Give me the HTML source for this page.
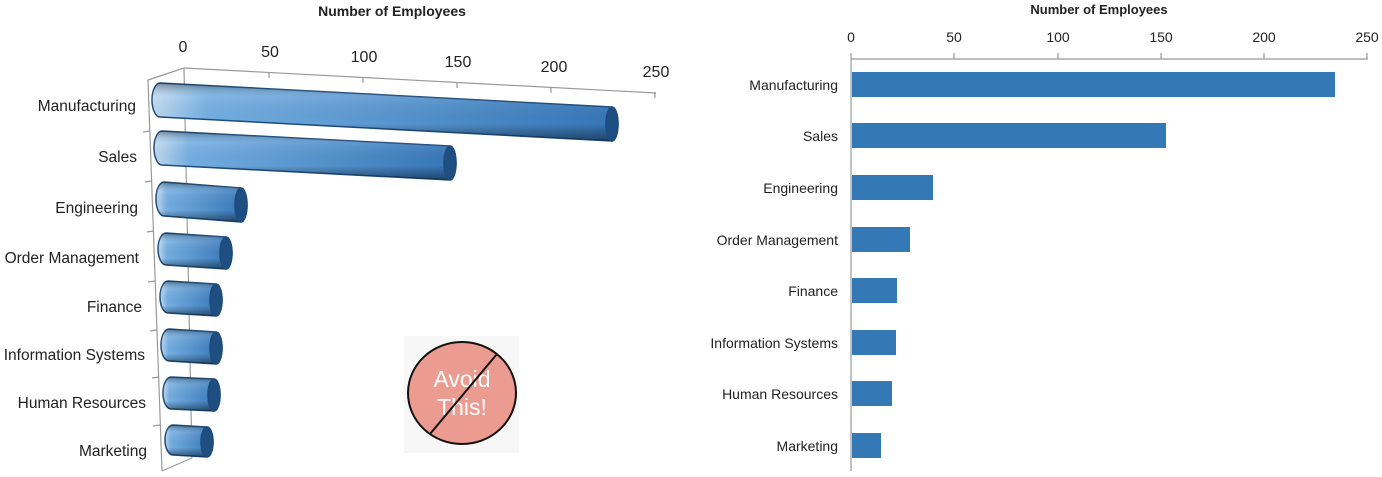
<!DOCTYPE html>
<html><head><meta charset="utf-8"><style>
html,body{margin:0;padding:0;background:#fff;}
svg{display:block;font-family:"Liberation Sans",sans-serif;}
</style></head><body>
<svg width="1382" height="477" viewBox="0 0 1382 477" xmlns="http://www.w3.org/2000/svg">
<defs>
<linearGradient id="gh" x1="0" y1="0" x2="1" y2="0">
<stop offset="0" stop-color="#c2daf0"/><stop offset="0.12" stop-color="#74afe2"/><stop offset="1" stop-color="#3576b8"/>
</linearGradient>
<linearGradient id="gv" x1="0" y1="0" x2="0" y2="1">
<stop offset="0" stop-color="#000" stop-opacity="0.35"/><stop offset="0.25" stop-color="#fff" stop-opacity="0.1"/><stop offset="0.7" stop-color="#000" stop-opacity="0"/><stop offset="1" stop-color="#000" stop-opacity="0.45"/>
</linearGradient>
</defs>
<!-- LEFT CHART -->
<text x="392" y="16" font-size="14" font-weight="bold" text-anchor="middle" fill="#222">Number of Employees</text>
<g stroke="#999" stroke-width="1.2" fill="none">
<line x1="184" y1="68" x2="656" y2="93"/>
<line x1="184" y1="68" x2="148" y2="80"/>
<line x1="148" y1="80" x2="162" y2="471"/>
<line x1="184" y1="68" x2="192" y2="458"/>
<line x1="162" y1="471" x2="192" y2="458"/>
<line x1="269" y1="72" x2="269" y2="78"/><line x1="363" y1="77" x2="363" y2="83"/>
<line x1="457" y1="82" x2="457" y2="88"/><line x1="551" y1="87" x2="551" y2="93"/>
<line x1="655" y1="92" x2="655" y2="98"/>
<line x1="143" y1="132" x2="150" y2="131"/><line x1="145" y1="182" x2="152" y2="181"/>
<line x1="147" y1="232" x2="154" y2="231"/><line x1="148" y1="282" x2="155" y2="281"/>
<line x1="150" y1="331" x2="157" y2="330"/><line x1="152" y1="378" x2="159" y2="377"/>
<line x1="153" y1="426" x2="160" y2="425"/>
</g>
<g font-size="16" fill="#222" text-anchor="middle">
<text x="183" y="52">0</text><text x="270" y="57">50</text><text x="364" y="62">100</text>
<text x="458" y="67">150</text><text x="554" y="72">200</text><text x="656" y="77">250</text>
</g>
<g font-size="15.5" fill="#222" text-anchor="end">
<text x="136" y="111">Manufacturing</text><text x="137" y="162">Sales</text>
<text x="138" y="213">Engineering</text><text x="139" y="263">Order Management</text>
<text x="142" y="312">Finance</text><text x="145" y="360">Information Systems</text>
<text x="146" y="408">Human Resources</text><text x="147" y="456">Marketing</text>
</g>
<g stroke="#1d4c7c" stroke-width="1.5">
<path d="M160,83 L612,107 A6,17 0 0 1 612,141 L160,117 A8,17 0 0 1 160,83Z" fill="url(#gh)"/>
<path d="M160,83 L612,107 A6,17 0 0 1 612,141 L160,117 A8,17 0 0 1 160,83Z" fill="url(#gv)" stroke="none"/>
<ellipse cx="612" cy="124" rx="6" ry="17" fill="#1f4f80"/>
<path d="M162,131 L450,146 A6,17 0 0 1 450,180 L162,165 A8,17 0 0 1 162,131Z" fill="url(#gh)"/>
<path d="M162,131 L450,146 A6,17 0 0 1 450,180 L162,165 A8,17 0 0 1 162,131Z" fill="url(#gv)" stroke="none"/>
<ellipse cx="450" cy="163" rx="6" ry="17" fill="#1f4f80"/>
<path d="M164,182 L241,188 A6,17 0 0 1 241,222 L164,216 A8,17 0 0 1 164,182Z" fill="url(#gh)"/>
<path d="M164,182 L241,188 A6,17 0 0 1 241,222 L164,216 A8,17 0 0 1 164,182Z" fill="url(#gv)" stroke="none"/>
<ellipse cx="241" cy="205" rx="6" ry="17" fill="#1f4f80"/>
<path d="M166,233 L226,237 A6,16 0 0 1 226,269 L166,265 A8,16 0 0 1 166,233Z" fill="url(#gh)"/>
<path d="M166,233 L226,237 A6,16 0 0 1 226,269 L166,265 A8,16 0 0 1 166,233Z" fill="url(#gv)" stroke="none"/>
<ellipse cx="226" cy="253" rx="6" ry="16" fill="#1f4f80"/>
<path d="M168,281 L216,284 A6,16 0 0 1 216,316 L168,313 A8,16 0 0 1 168,281Z" fill="url(#gh)"/>
<path d="M168,281 L216,284 A6,16 0 0 1 216,316 L168,313 A8,16 0 0 1 168,281Z" fill="url(#gv)" stroke="none"/>
<ellipse cx="216" cy="300" rx="6" ry="16" fill="#1f4f80"/>
<path d="M169,329 L216,332 A6,16 0 0 1 216,364 L169,361 A8,16 0 0 1 169,329Z" fill="url(#gh)"/>
<path d="M169,329 L216,332 A6,16 0 0 1 216,364 L169,361 A8,16 0 0 1 169,329Z" fill="url(#gv)" stroke="none"/>
<ellipse cx="216" cy="348" rx="6" ry="16" fill="#1f4f80"/>
<path d="M171,377 L214,379 A6,16 0 0 1 214,411 L171,409 A8,16 0 0 1 171,377Z" fill="url(#gh)"/>
<path d="M171,377 L214,379 A6,16 0 0 1 214,411 L171,409 A8,16 0 0 1 171,377Z" fill="url(#gv)" stroke="none"/>
<ellipse cx="214" cy="395" rx="6" ry="16" fill="#1f4f80"/>
<path d="M173,425 L207,427 A6,15 0 0 1 207,457 L173,455 A8,15 0 0 1 173,425Z" fill="url(#gh)"/>
<path d="M173,425 L207,427 A6,15 0 0 1 207,457 L173,455 A8,15 0 0 1 173,425Z" fill="url(#gv)" stroke="none"/>
<ellipse cx="207" cy="442" rx="6" ry="15" fill="#1f4f80"/>
</g>
<!-- Avoid this -->
<rect x="404" y="336" width="115" height="117" fill="#f7f7f7"/>
<ellipse cx="462" cy="393" rx="54" ry="51" fill="#ec9b90" stroke="#111" stroke-width="2"/>
<g font-size="23" fill="#fff" text-anchor="middle">
<text x="462" y="387">Avoid</text><text x="462" y="415">This!</text>
</g>
<line x1="497" y1="354" x2="430" y2="434" stroke="#111" stroke-width="2"/>
<!-- RIGHT CHART -->
<text x="1099" y="14" font-size="13" font-weight="bold" text-anchor="middle" fill="#222">Number of Employees</text>
<g font-size="14" fill="#222" text-anchor="middle">
<text x="851" y="42">0</text><text x="954" y="42">50</text><text x="1058" y="42">100</text>
<text x="1161" y="42">150</text><text x="1264" y="42">200</text><text x="1367" y="42">250</text>
</g>
<g stroke="#999" stroke-width="1.2">
<line x1="851" y1="59" x2="1368" y2="59"/>
<line x1="851" y1="53" x2="851" y2="471"/>
<line x1="954" y1="53" x2="954" y2="59"/><line x1="1058" y1="53" x2="1058" y2="59"/>
<line x1="1161" y1="53" x2="1161" y2="59"/><line x1="1264" y1="53" x2="1264" y2="59"/>
<line x1="1367" y1="53" x2="1367" y2="59"/>
</g>
<g fill="#3479b5">
<rect x="852" y="72" width="483" height="25"/>
<rect x="852" y="123" width="314" height="25"/>
<rect x="852" y="175" width="81" height="25"/>
<rect x="852" y="227" width="58" height="25"/>
<rect x="852" y="278" width="45" height="25"/>
<rect x="852" y="330" width="44" height="25"/>
<rect x="852" y="381" width="40" height="25"/>
<rect x="852" y="433" width="29" height="25"/>
</g>
<g font-size="14" fill="#222" text-anchor="end">
<text x="838" y="90">Manufacturing</text><text x="838" y="141">Sales</text>
<text x="838" y="193">Engineering</text><text x="838" y="245">Order Management</text>
<text x="838" y="296">Finance</text><text x="838" y="348">Information Systems</text>
<text x="838" y="399">Human Resources</text><text x="838" y="451">Marketing</text>
</g>
</svg>
</body></html>
